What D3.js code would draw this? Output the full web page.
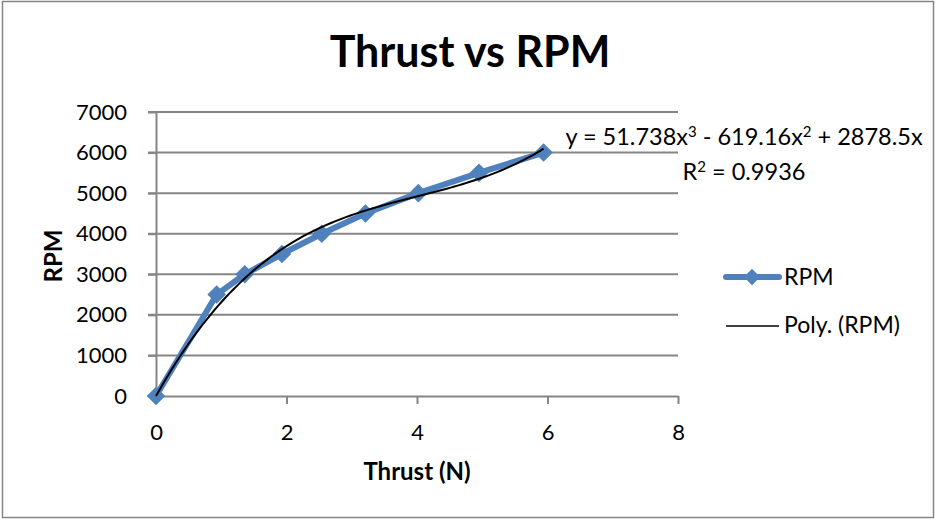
<!DOCTYPE html>
<meta charset="utf-8">
<style>
body { margin: 0; background: #fff; }
svg { display: block; font-family: Lato, "Open Sans", sans-serif; }
.grid line { stroke: #868686; stroke-width: 2; }
.axis path, .axis line { stroke: #868686; stroke-width: 2; }
.axis text { font-size: 22px; fill: #000; font-family: Lato, sans-serif; }
</style>
<svg width="936" height="522"></svg>
<script src="https://d3js.org/d3.v7.min.js"></script>
<script>
// data
var thrust = [0, 0.93, 1.36, 1.93, 2.54, 3.21, 4.02, 4.95, 5.94];
var rpm = [0, 2500, 3000, 3500, 4000, 4500, 5000, 5500, 6000];
var xTicks = [0, 2, 4, 6, 8];
var yTicks = [0, 1000, 2000, 3000, 4000, 5000, 6000, 7000];
// trendline coefficients as printed on the chart (x^3, x^2, x)
var polyCoef = [51.738, -619.16, 2878.5];

var svg = d3.select("svg"),
    width = +svg.attr("width"),
    height = +svg.attr("height");

svg.append("rect")
    .attr("x", 2.5).attr("y", 1.5)
    .attr("width", width - 5).attr("height", height - 6)
    .attr("fill", "#fff").attr("stroke", "#868686").attr("stroke-width", 1.5);

var x = d3.scaleLinear().domain([0, 8]).range([156, 678]);
var y = d3.scaleLinear().domain([0, 7000]).range([396, 112]);

// gridlines
svg.append("g").attr("class", "grid")
  .selectAll("line")
  .data(yTicks.slice(1))
  .enter().append("line")
    .attr("x1", x(0) - 8).attr("x2", x(8))
    .attr("y1", function(d) { return y(d); })
    .attr("y2", function(d) { return y(d); });

svg.append("g").attr("class", "axis")
    .attr("transform", "translate(" + x(0) + ",0)")
    .call(d3.axisLeft(y).tickValues(yTicks).tickFormat(d3.format("d"))
        .tickSize(8).tickSizeOuter(0).tickPadding(21));

svg.append("g").attr("class", "axis")
    .attr("transform", "translate(0," + y(0) + ")")
    .call(d3.axisBottom(x).tickValues(xTicks).tickFormat(d3.format("d"))
        .tickSize(8).tickSizeOuter(0).tickPadding(20));

// series line
var line = d3.line()
    .x(function(d, i) { return x(thrust[i]); })
    .y(function(d) { return y(d); });

svg.append("path")
    .datum(rpm)
    .attr("d", line)
    .attr("fill", "none")
    .attr("stroke", "#4f81bd")
    .attr("stroke-width", 6)
    .attr("stroke-linejoin", "round");

var diamond = d3.symbol().type(d3.symbolDiamond2).size(220);

svg.append("g").selectAll("path")
  .data(rpm)
  .enter().append("path")
    .attr("d", diamond)
    .attr("transform", function(d, i) { return "translate(" + x(thrust[i]) + "," + y(d) + ")"; })
    .attr("fill", "#4f81bd");

// polynomial trendline
function poly(t) { return polyCoef[0] * t * t * t + polyCoef[1] * t * t + polyCoef[2] * t; }
var tMax = d3.max(thrust);
var trendPts = d3.range(0, 101).map(function(k) { return tMax * k / 100; });

svg.append("path")
    .datum(trendPts)
    .attr("d", d3.line()
        .x(function(t) { return x(t); })
        .y(function(t) { return y(poly(t)); }))
    .attr("fill", "none")
    .attr("stroke", "#000")
    .attr("stroke-width", 2);

// titles
svg.append("text")
    .attr("x", 470).attr("y", 67)
    .attr("text-anchor", "middle")
    .attr("font-size", 43).attr("font-weight", "bold")
    .text("Thrust vs RPM");

svg.append("text")
    .attr("x", 417).attr("y", 480)
    .attr("text-anchor", "middle")
    .attr("font-size", 24).attr("font-weight", "bold")
    .text("Thrust (N)");

svg.append("text")
    .attr("transform", "translate(62,256) rotate(-90)")
    .attr("text-anchor", "middle")
    .attr("font-size", 24).attr("font-weight", "bold")
    .text("RPM");

// equation
var eq = svg.append("text")
    .attr("x", 744).attr("y", 145)
    .attr("text-anchor", "middle")
    .attr("font-size", 23.5);
eq.append("tspan").text("y = 51.738x");
eq.append("tspan").attr("dy", -8).attr("font-size", 15).text("3");
eq.append("tspan").attr("dy", 8).text(" - 619.16x");
eq.append("tspan").attr("dy", -8).attr("font-size", 15).text("2");
eq.append("tspan").attr("dy", 8).text(" + 2878.5x");
var r2 = svg.append("text")
    .attr("x", 744).attr("y", 180)
    .attr("text-anchor", "middle")
    .attr("font-size", 23.5);
r2.append("tspan").text("R");
r2.append("tspan").attr("dy", -8).attr("font-size", 15).text("2");
r2.append("tspan").attr("dy", 8).text(" = 0.9936");

// legend
var lg = svg.append("g");
lg.append("line")
    .attr("x1", 726).attr("x2", 779).attr("y1", 277).attr("y2", 277)
    .attr("stroke", "#4f81bd").attr("stroke-width", 6).attr("stroke-linecap", "round");
lg.append("path")
    .attr("d", d3.symbol().type(d3.symbolDiamond2).size(170))
    .attr("transform", "translate(752,277)")
    .attr("fill", "#4f81bd");
lg.append("text").attr("x", 784).attr("y", 285).attr("font-size", 23).text("RPM");
lg.append("line")
    .attr("x1", 726).attr("x2", 779).attr("y1", 326).attr("y2", 326)
    .attr("stroke", "#000").attr("stroke-width", 1.5);
lg.append("text").attr("x", 784).attr("y", 333).attr("font-size", 23).text("Poly. (RPM)");
</script>
